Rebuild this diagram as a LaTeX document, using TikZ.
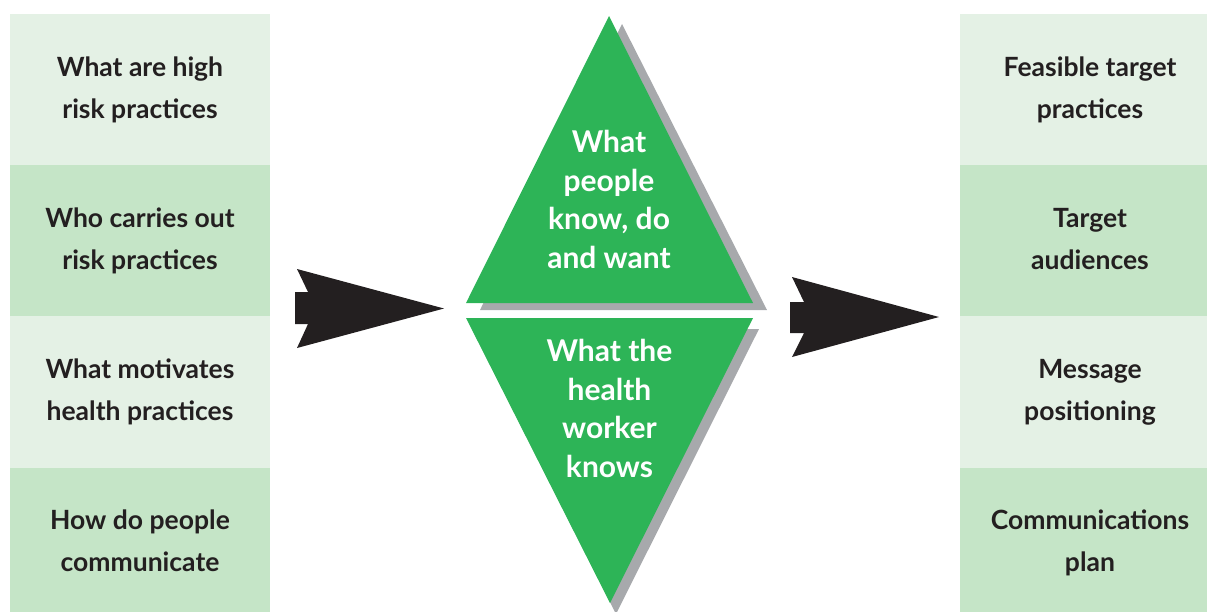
\documentclass[tikz,border=0pt]{standalone}
\usepackage{fontspec}
\setmainfont{Lato}
\definecolor{lightg}{HTML}{E4F1E5}
\definecolor{midg}{HTML}{C5E5C7}
\definecolor{trig}{HTML}{2DB457}
\definecolor{shad}{HTML}{A7A9AC}
\definecolor{ink}{HTML}{231F20}
\newcommand{\ph}{\vphantom{Ahgp}}
\begin{document}
\begin{tikzpicture}[x=1pt,y=-1pt,
  infobox/.style={rectangle, inner sep=0pt, minimum width=260pt, minimum height=151.6pt,
    text=ink, align=center, font=\fontsize{26.5}{42}\selectfont\bfseries},
  lightbox/.style={infobox, fill=lightg},
  midbox/.style={infobox, fill=midg},
  tritext/.style={inner sep=0pt, text=white, align=center, font=\fontsize{30}{38.7}\selectfont\bfseries},
  bigarrow/.style={fill=ink}]
\useasboundingbox (0,0) rectangle (1207,611);
\clip (0,0) rectangle (1207,611);
% left column
\node[lightbox] (l1) at (140,89.6)  {\ph What are high\\risk practices\ph};
\node[midbox]   (l2) at (140,240.9) {\ph Who carries out\\risk practices\ph};
\node[lightbox] (l3) at (140,392.1) {\ph What motivates\\health practices\ph};
\node[midbox]   (l4) at (140,543.4) {\ph How do people\\communicate\ph};
% right column
\node[lightbox] (r1) at (1090,89.6)  {\ph Feasible target\\practices\ph};
\node[midbox]   (r2) at (1090,240.9) {\ph Target\\audiences\ph};
\node[lightbox] (r3) at (1090,392.1) {\ph Message\\positioning\ph};
\node[midbox]   (r4) at (1090,543.4) {\ph Communications\\plan\ph};
% arrows
\coordinate (a1) at (444,308.5);
\coordinate (a2) at (939,317);
\fill[bigarrow] (295,292) -- (308,292) -- (297,269) -- (a1) -- (297,348) -- (308,324) -- (295,324) -- cycle;
\fill[bigarrow] (790,302) -- (804,302) -- (792,277) -- (a2) -- (792,357) -- (804,333) -- (790,333) -- cycle;
% triangles
\fill[shad] (622,24) -- (480,310) -- (767,310) -- cycle;
\fill[trig] (609,16) -- (466,303) -- (753,303) -- cycle;
\fill[shad] (472,329) -- (759,329) -- (616,614) -- cycle;
\fill[trig] (466,318) -- (753,318) -- (610,603) -- cycle;
\node[tritext] (up) at (609,202) {\ph What\\people\\know, do\\and want\ph};
\node[tritext] (dn) at (609.5,411) {\ph What the\\health\\worker\\knows\ph};
\end{tikzpicture}
\end{document}
